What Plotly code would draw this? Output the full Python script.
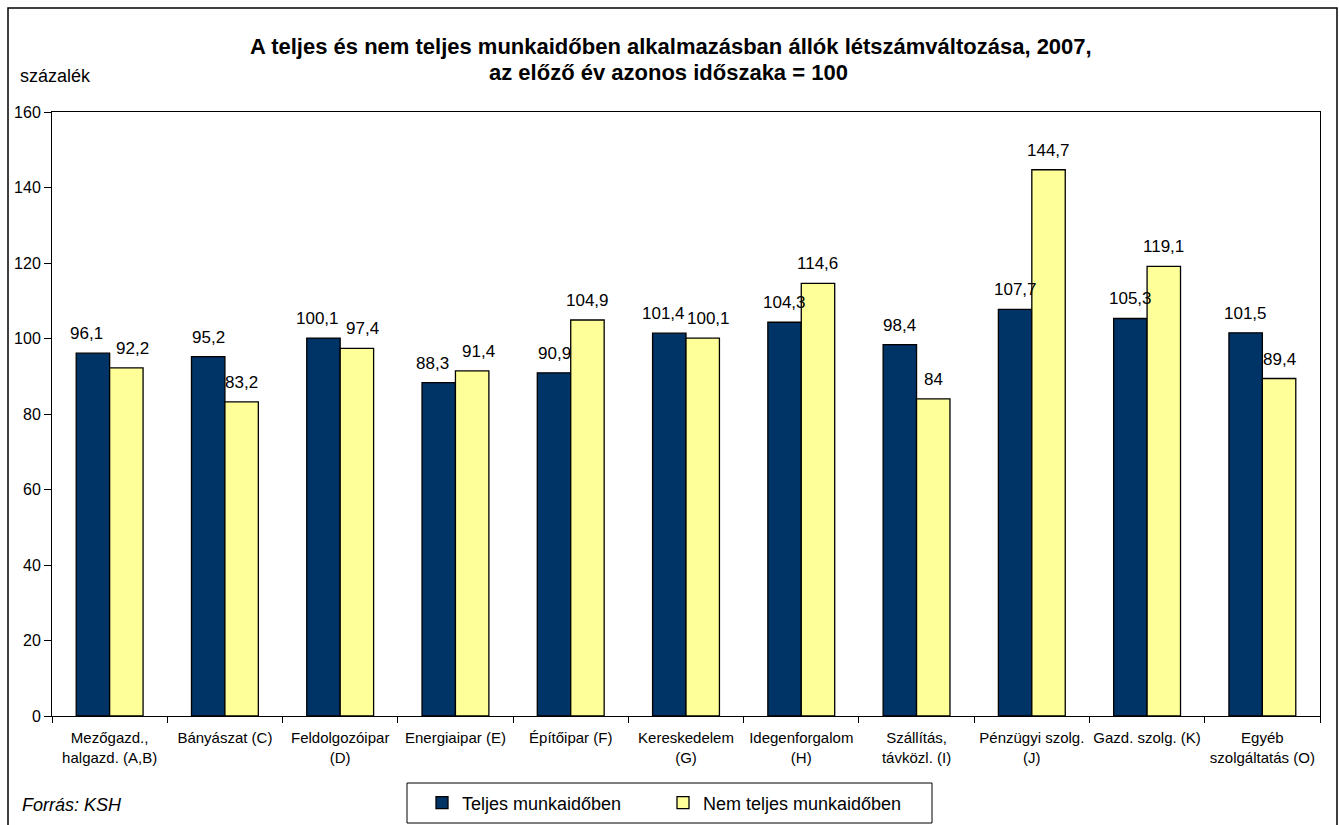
import plotly.graph_objects as go

categories = ["Mezőgazd.,<br>halgazd. (A,B)", "Bányászat (C)", "Feldolgozóipar<br>(D)", "Energiaipar (E)",
              "Építőipar (F)", "Kereskedelem<br>(G)", "Idegenforgalom<br>(H)", "Szállítás,<br>távközl. (I)",
              "Pénzügyi szolg.<br>(J)", "Gazd. szolg. (K)", "Egyéb<br>szolgáltatás (O)"]
teljes = [96.1, 95.2, 100.1, 88.3, 90.9, 101.4, 104.3, 98.4, 107.7, 105.3, 101.5]
nem_teljes = [92.2, 83.2, 97.4, 91.4, 104.9, 100.1, 114.6, 84, 144.7, 119.1, 89.4]
y_ticks = [0, 20, 40, 60, 80, 100, 120, 140, 160]

def fmt(v):
    return f"{v:g}".replace(".", ",")

FONT = "Arial, Liberation Sans, sans-serif"
BAR_GAP = 0.42

fig = go.Figure()
fig.add_trace(go.Bar(x=categories, y=teljes, name="Teljes munkaidőben",
                     marker=dict(color="#003366", line=dict(color="black", width=1.3))))
fig.add_trace(go.Bar(x=categories, y=nem_teljes, name="Nem teljes munkaidőben",
                     marker=dict(color="#FFFF99", line=dict(color="black", width=1.3))))

W, H = 1339, 825
L, R, T, B = 52, 19, 112, 109
pw, ph = W - L - R, H - T - B

def px(xs):
    return (xs - L) / pw

def py(ys):
    return (H - B - ys) / ph

cat_w = pw / len(categories)
shift = (1 - BAR_GAP) / 4 * cat_w

annotations = []
for c, a, b in zip(categories, teljes, nem_teljes):
    # push neighbouring labels apart when they sit at nearly the same height
    extra = 6 if abs(a - b) < 6 else 0
    annotations.append(dict(x=c, y=a, xref="x", yref="y", text=fmt(a), showarrow=False,
                            xshift=-shift - extra, yshift=8, yanchor="bottom",
                            font=dict(size=17, family=FONT, color="black")))
    annotations.append(dict(x=c, y=b, xref="x", yref="y", text=fmt(b), showarrow=False,
                            xshift=shift + extra, yshift=8, yanchor="bottom",
                            font=dict(size=17, family=FONT, color="black")))

annotations += [
    dict(text="<b>A teljes és nem teljes munkaidőben alkalmazásban állók létszámváltozása, 2007,</b>",
         xref="paper", yref="paper", x=px(671), y=py(47), xanchor="center", yanchor="middle",
         showarrow=False, font=dict(size=22, family=FONT)),
    dict(text="<b>az előző év azonos időszaka = 100</b>",
         xref="paper", yref="paper", x=px(668), y=py(72), xanchor="center", yanchor="middle",
         showarrow=False, font=dict(size=22, family=FONT)),
    dict(text="százalék", xref="paper", yref="paper", x=px(18), y=py(76),
         xanchor="left", yanchor="middle", showarrow=False, font=dict(size=18, family=FONT)),
    dict(text="<i>Forrás: KSH</i>", xref="paper", yref="paper", x=px(20), y=py(805),
         xanchor="left", yanchor="middle", showarrow=False, font=dict(size=18, family=FONT)),
]

fig.update_layout(
    width=W, height=H,
    margin=dict(l=L, r=R, t=T, b=B, autoexpand=False),
    paper_bgcolor="white", plot_bgcolor="white",
    font=dict(family=FONT, color="black"),
    barmode="group", bargap=BAR_GAP, bargroupgap=0,
    showlegend=True,
    legend=dict(orientation="h", x=px(422), xanchor="left", y=py(803), yanchor="middle",
                borderwidth=0, bgcolor="rgba(0,0,0,0)",
                font=dict(size=18, family=FONT), itemwidth=30,
                entrywidth=196, traceorder="normal"),
    xaxis=dict(showline=True, linecolor="black", linewidth=1, mirror=True,
               ticks="outside", tickson="boundaries", ticklen=6, tickcolor="black",
               ticklabelstandoff=8,
               tickangle=0, tickfont=dict(size=15, family=FONT), showgrid=False),
    yaxis=dict(range=[0, 160], tickvals=y_ticks, showline=True, linecolor="black", linewidth=1,
               mirror=True, ticks="outside", ticklen=7, tickcolor="black",
               tickfont=dict(size=16, family=FONT), showgrid=False, zeroline=False),
    annotations=annotations,
    shapes=[
        dict(type="rect", xref="paper", yref="paper",
             x0=px(8), x1=px(1337), y0=py(840), y1=py(8),
             line=dict(color="black", width=1.5), fillcolor="rgba(0,0,0,0)", layer="below"),
        dict(type="rect", xref="paper", yref="paper",
             x0=px(407), x1=px(932), y0=py(823), y1=py(783),
             line=dict(color="black", width=1), fillcolor="white", layer="below"),
    ],
)

fig.write_html(
    "out.html",
    config={"displayModeBar": False},
    post_script="document.body.style.margin='0';document.body.style.overflow='hidden';"
                "document.documentElement.style.overflow='hidden';",
)
